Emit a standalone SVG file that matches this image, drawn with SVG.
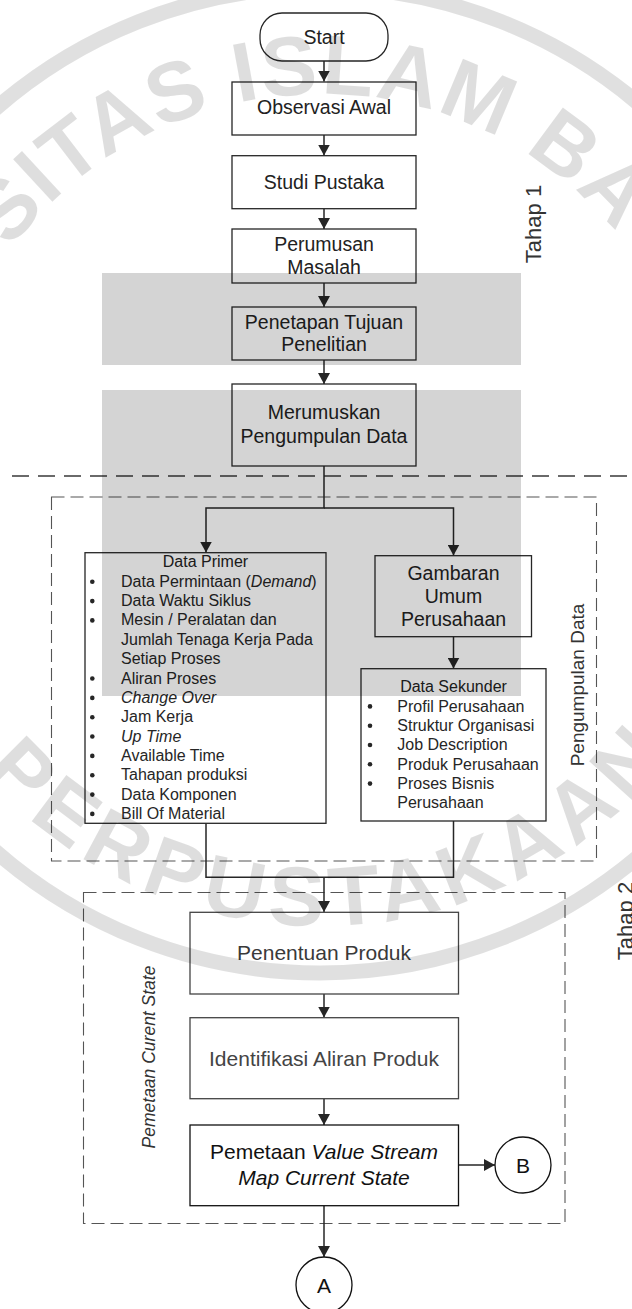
<svg xmlns="http://www.w3.org/2000/svg" width="632" height="1309" viewBox="0 0 632 1309">
<style>
.box{fill:#fff;stroke:#262626;stroke-width:1.3}
.dash1{fill:none;stroke:#3a3a3a;stroke-width:1.3;stroke-dasharray:17 9}
.dash2{fill:none;stroke:#555;stroke-width:1.1;stroke-dasharray:13 6}
.t{font-family:"Liberation Sans",Arial,sans-serif;fill:#222;text-anchor:middle}
.m{font-size:19.5px}
.b{font-size:21px}
.l{font-family:"Liberation Sans",Arial,sans-serif;fill:#262626;font-size:16px}
.i{font-style:italic}
.con{fill:none;stroke:#262626;stroke-width:1.5}
.wm{font-family:"Liberation Sans",Arial,sans-serif;font-weight:bold;font-size:84px}
</style>
<defs>
<marker id="ah" markerUnits="userSpaceOnUse" markerWidth="12" markerHeight="12" refX="11" refY="6" orient="auto">
<path d="M0,0 L11,6 L0,12 z" fill="#262626"/>
</marker>
<path id="arcTop" d="M320,866 A386,386 0 1,1 320,94 A386,386 0 1,1 320,866"/>
<path id="arcBot" d="M-126,480 A446,446 0 0,0 766,480"/>
</defs>
<rect width="632" height="1309" fill="#fff"/>

<!-- boundaries -->
<g id="boundaries">
<line class="dash1" x1="12" y1="476" x2="632" y2="476"/>
<rect class="dash2" x="51.5" y="497" width="545" height="364"/>
<rect class="dash2" x="83.5" y="892.5" width="481.5" height="331"/>
<text class="t" transform="translate(541,224) rotate(-90)" style="font-size:22px;fill:#333">Tahap 1</text>
<text class="t" transform="translate(633,921) rotate(-90)" style="font-size:22px;fill:#333">Tahap 2</text>
<text class="t" transform="translate(584,685) rotate(-90)" style="font-size:19px;fill:#333">Pengumpulan Data</text>
<text class="t i" transform="translate(154.5,1057) rotate(-90)" style="font-size:17.5px;fill:#333">Pemetaan Curent State</text>
</g>

<!-- connectors -->
<g id="connectors">
<path class="con" d="M324,61 V81.5" marker-end="url(#ah)"/>
<path class="con" d="M324,135 V155.5" marker-end="url(#ah)"/>
<path class="con" d="M324,208.7 V229" marker-end="url(#ah)"/>
<path class="con" d="M324,283 V307" marker-end="url(#ah)"/>
<path class="con" d="M324,360 V384" marker-end="url(#ah)"/>
<path class="con" d="M324,466 V508 H206 V552.5" marker-end="url(#ah)"/>
<path class="con" d="M324,508 H453.5 V555.5" marker-end="url(#ah)"/>
<path class="con" d="M453.5,636.7 V668.5" marker-end="url(#ah)"/>
<path class="con" d="M206,823.3 V877.3 H453.5 V821"/>
<path class="con" d="M324,877.3 V912" marker-end="url(#ah)"/>
<path class="con" d="M324,994 V1017.5" marker-end="url(#ah)"/>
<path class="con" d="M324,1098.7 V1125" marker-end="url(#ah)"/>
<path class="con" d="M458.5,1165 H495" marker-end="url(#ah)"/>
<path class="con" d="M324,1205.7 V1257" marker-end="url(#ah)"/>
</g>

<g id="start">
<rect class="box" x="260" y="13" width="128" height="48" rx="22"/>
<text class="t m" x="324" y="43.7">Start</text>
</g>
<g id="observasi">
<rect class="box" x="232" y="82" width="184" height="53"/>
<text class="t m" x="324" y="114.3">Observasi Awal</text>
</g>
<g id="studi">
<rect class="box" x="232" y="155.7" width="184" height="53"/>
<text class="t m" x="324" y="188.7">Studi Pustaka</text>
</g>
<g id="perumusan">
<rect class="box" x="232" y="229" width="184" height="54"/>
<text class="t m" x="324" y="251">Perumusan</text>
<text class="t m" x="324" y="274.3">Masalah</text>
</g>
<g id="penetapan">
<rect class="box" x="232" y="307" width="184" height="53"/>
<text class="t m" x="324" y="328.7">Penetapan Tujuan</text>
<text class="t m" x="324" y="351.3">Penelitian</text>
</g>
<g id="merumuskan">
<rect class="box" x="232" y="384" width="184" height="82"/>
<text class="t m" x="324" y="419.3">Merumuskan</text>
<text class="t m" x="324" y="442.7">Pengumpulan Data</text>
</g>

<g id="data-primer">
<rect class="box" x="85" y="552.7" width="241" height="270.6"/>
<text class="t" x="205.5" y="567.4" style="font-size:16px">Data Primer</text>
<g fill="#262626">
<circle cx="92.3" cy="581.7" r="2.3"/>
<circle cx="92.3" cy="601.1" r="2.3"/>
<circle cx="92.3" cy="620.4" r="2.3"/>
<circle cx="92.3" cy="678.5" r="2.3"/>
<circle cx="92.3" cy="697.9" r="2.3"/>
<circle cx="92.3" cy="717.2" r="2.3"/>
<circle cx="92.3" cy="736.5" r="2.3"/>
<circle cx="92.3" cy="755.9" r="2.3"/>
<circle cx="92.3" cy="775.2" r="2.3"/>
<circle cx="92.3" cy="794.6" r="2.3"/>
<circle cx="92.3" cy="813.9" r="2.3"/>
</g>
<text class="l" x="121" y="586.75">Data Permintaan (<tspan class="i">Demand</tspan>)</text>
<text class="l" x="121" y="606.1">Data Waktu Siklus</text>
<text class="l" x="121" y="625.45">Mesin / Peralatan dan</text>
<text class="l" x="121" y="644.8">Jumlah Tenaga Kerja Pada</text>
<text class="l" x="121" y="664.15">Setiap Proses</text>
<text class="l" x="121" y="683.5">Aliran Proses</text>
<text class="l i" x="121" y="702.85">Change Over</text>
<text class="l" x="121" y="722.2">Jam Kerja</text>
<text class="l i" x="121" y="741.55">Up Time</text>
<text class="l" x="121" y="760.9">Available Time</text>
<text class="l" x="121" y="780.25">Tahapan produksi</text>
<text class="l" x="121" y="799.6">Data Komponen</text>
<text class="l" x="121" y="818.95">Bill Of Material</text>
</g>

<g id="gambaran">
<rect class="box" x="375" y="555.7" width="156.5" height="81"/>
<text class="t m" x="453.5" y="579.7">Gambaran</text>
<text class="t m" x="453.5" y="602.7">Umum</text>
<text class="t m" x="453.5" y="626.3">Perusahaan</text>
</g>

<g id="data-sekunder">
<rect class="box" x="361" y="668.7" width="185" height="152.3"/>
<text class="t" x="453.5" y="692.4" style="font-size:16px">Data Sekunder</text>
<g fill="#262626">
<circle cx="370" cy="706.4" r="2.3"/>
<circle cx="370" cy="725.7" r="2.3"/>
<circle cx="370" cy="745" r="2.3"/>
<circle cx="370" cy="764.3" r="2.3"/>
<circle cx="370" cy="783.6" r="2.3"/>
</g>
<text class="l" x="397.3" y="711.7">Profil Perusahaan</text>
<text class="l" x="397.3" y="731">Struktur Organisasi</text>
<text class="l" x="397.3" y="750.3">Job Description</text>
<text class="l" x="397.3" y="769.6">Produk Perusahaan</text>
<text class="l" x="397.3" y="788.9">Proses Bisnis</text>
<text class="l" x="397.3" y="808.2">Perusahaan</text>
</g>

<g id="penentuan">
<rect class="box" x="190" y="912.3" width="268.5" height="81.7" style="stroke:#444"/>
<text class="t b" x="324" y="960.2" style="fill:#3a3a3a">Penentuan Produk</text>
</g>
<g id="identifikasi">
<rect class="box" x="190" y="1017.7" width="268.5" height="81" style="stroke:#444"/>
<text class="t b" x="324" y="1065.8" style="fill:#444">Identifikasi Aliran Produk</text>
</g>
<g id="pemetaan-vsm">
<rect class="box" x="190" y="1125" width="268.5" height="80.7" style="stroke:#111"/>
<text class="t b" x="324" y="1159.2" style="fill:#111">Pemetaan <tspan class="i">Value Stream</tspan></text>
<text class="t b i" x="324" y="1185.2" style="fill:#111">Map Current State</text>
</g>
<g id="conn-b">
<circle class="box" cx="523" cy="1165" r="28" style="stroke:#111"/>
<text class="t" x="523" y="1172.5" style="font-size:21px;fill:#111">B</text>
</g>
<g id="conn-a">
<circle class="box" cx="324" cy="1285" r="28" style="stroke:#111"/>
<text class="t" x="324" y="1292.5" style="font-size:21px;fill:#111">A</text>
</g>

<!-- watermark overlay -->
<g id="watermark">
<rect x="102" y="273" width="419" height="92" fill="#000" fill-opacity="0.17"/>
<rect x="102" y="390" width="419" height="306" fill="#000" fill-opacity="0.17"/>
<circle cx="320" cy="480" r="493" fill="none" stroke="#000" stroke-opacity="0.12" stroke-width="15"/>
<text class="wm" fill="#000" fill-opacity="0.13" letter-spacing="2"><textPath href="#arcTop" startOffset="853">SITAS ISLAM BA</textPath></text>
<text class="wm" fill="#000" fill-opacity="0.13" letter-spacing="8"><textPath href="#arcBot" startOffset="318">PERPUSTAKAAN</textPath></text>
</g>
</svg>
